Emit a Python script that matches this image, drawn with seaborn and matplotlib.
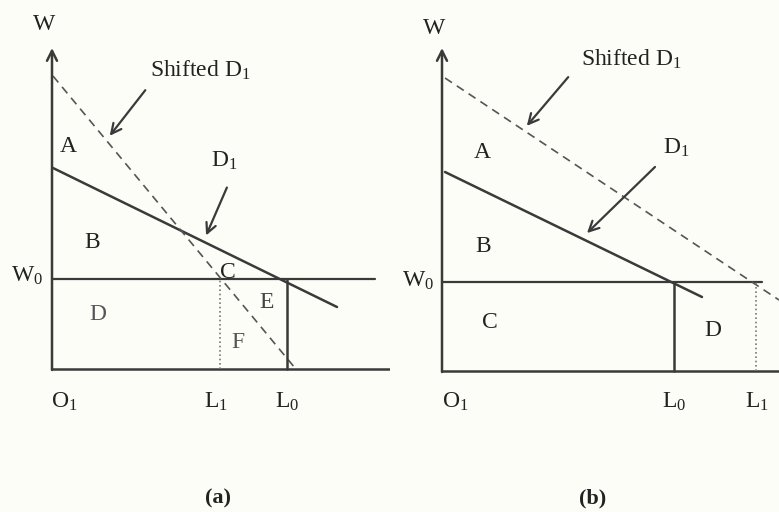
import matplotlib
matplotlib.use("Agg")
import matplotlib.pyplot as plt
import seaborn as sns

# panel (a) - coordinates measured from origin O1
a_d1_x = [1, 285]
a_d1_y = [201, 62]
a_shift_x = [1, 243]
a_shift_y = [293, 1]
a_w0 = 90
a_w0_end = 323
a_l1 = 168
a_l0 = 235
a_ytop = 321
a_xend = 346

# panel (b)
b_d1_x = [3, 260]
b_d1_y = [199, 74]
b_shift_x = [3, 337]
b_shift_y = [293, 71]
b_w0 = 89
b_w0_end = 320
b_l0 = 232
b_l1 = 314
b_ytop = 323
b_xend = 337

line_col = "#3a3a3a"
text_col = "#222222"
bg = "#fdfdf7"

sns.set_theme(style="white", rc={"figure.facecolor": bg, "axes.facecolor": bg})
plt.rcParams["font.family"] = ["Liberation Serif", "DejaVu Serif"]
plt.rcParams["mathtext.fontset"] = "custom"
plt.rcParams["mathtext.rm"] = "Liberation Serif"
plt.rcParams["mathtext.default"] = "regular"

fig = plt.figure(figsize=(7.79, 5.12), dpi=100)
ax_a = fig.add_axes([0, 0, 390 / 779, 1])
ax_b = fig.add_axes([390 / 779, 0, 389 / 779, 1])
ax_a.set_xlim(-52, 338)
ax_a.set_ylim(-143, 369)
ax_b.set_xlim(-52, 337)
ax_b.set_ylim(-141, 371)

fs = 17


def txt(ax, x, y, s, color=text_col, size=fs, weight="normal"):
    ax.text(x, y, s, ha="center", va="center", fontsize=size, color=color,
            fontweight=weight)


def arrow(ax, tail, head):
    ax.annotate("", xy=head, xytext=tail,
                arrowprops=dict(arrowstyle="->", color=line_col, lw=1.6,
                                mutation_scale=18))


def axes_lines(ax, ytop, xend):
    ax.annotate("", xy=(0, ytop), xytext=(0, -1),
                arrowprops=dict(arrowstyle="->", color=line_col, lw=1.8,
                                mutation_scale=18, shrinkA=0, shrinkB=0))
    ax.plot([0, xend], [0, 0], color=line_col, lw=1.8)


# ---- panel (a)
axes_lines(ax_a, a_ytop, a_xend)
ax_a.plot([0, a_w0_end], [a_w0, a_w0], color=line_col, lw=1.6)
sns.lineplot(x=a_d1_x, y=a_d1_y, ax=ax_a, color=line_col, lw=1.8)
sns.lineplot(x=a_shift_x, y=a_shift_y, ax=ax_a, color="#555555", lw=1.2,
             linestyle=(0, (5, 3.5)))
ax_a.plot([a_l1, a_l1], [0, a_w0], color="#777777", lw=1.2, linestyle=(0, (1, 1.6)))
ax_a.plot([a_l0, a_l0], [0, a_w0], color=line_col, lw=1.8)
arrow(ax_a, (95, 281), (56, 231))
arrow(ax_a, (176, 184), (153, 131))

txt(ax_a, -8, 344, "W")
txt(ax_a, -25, 93, "W$_0$")
txt(ax_a, 12, -33, "O$_1$")
txt(ax_a, 164, -33, "L$_1$")
txt(ax_a, 235, -33, "L$_0$")
txt(ax_a, 166, -129, "(a)", size=16, weight="bold")
txt(ax_a, 148, 299, "Shifted D$_1$")
txt(ax_a, 172, 208, "D$_1$")
txt(ax_a, 16, 222, "A")
txt(ax_a, 40, 126, "B")
txt(ax_a, 176, 97, "C")
txt(ax_a, 46, 54, "D", color="#555555")
txt(ax_a, 215, 67, "E", color="#444444")
txt(ax_a, 186, 27, "F", color="#555555")

# ---- panel (b)
axes_lines(ax_b, b_ytop, b_xend)
ax_b.plot([0, b_w0_end], [b_w0, b_w0], color=line_col, lw=1.6)
sns.lineplot(x=b_d1_x, y=b_d1_y, ax=ax_b, color=line_col, lw=1.8)
sns.lineplot(x=b_shift_x, y=b_shift_y, ax=ax_b, color="#555555", lw=1.2,
             linestyle=(0, (5, 3.5)))
ax_b.plot([b_l0, b_l0], [0, b_w0], color=line_col, lw=1.8)
ax_b.plot([b_l1, b_l1], [0, b_w0], color="#777777", lw=1.2, linestyle=(0, (1, 1.6)))
arrow(ax_b, (128, 296), (83, 243))
arrow(ax_b, (215, 206), (143, 136))

txt(ax_b, -8, 343, "W")
txt(ax_b, -24, 90, "W$_0$")
txt(ax_b, 13, -31, "O$_1$")
txt(ax_b, 232, -31, "L$_0$")
txt(ax_b, 315, -31, "L$_1$")
txt(ax_b, 151, -127, "(b)", size=16, weight="bold")
txt(ax_b, 189, 312, "Shifted D$_1$")
txt(ax_b, 234, 223, "D$_1$")
txt(ax_b, 40, 218, "A")
txt(ax_b, 41, 124, "B")
txt(ax_b, 48, 48, "C")
txt(ax_b, 271, 41, "D")

for ax in (ax_a, ax_b):
    ax.set_axis_off()

fig.savefig("out.png", dpi=100, facecolor=bg)
